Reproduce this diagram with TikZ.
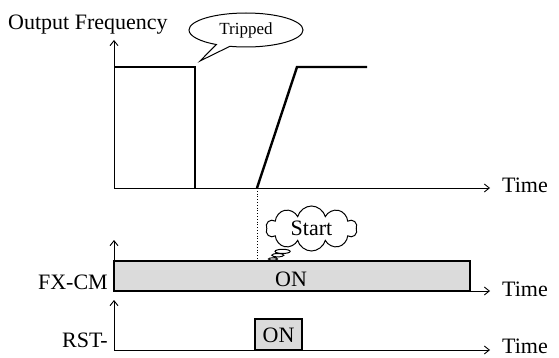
\documentclass[tikz,border=0pt]{standalone}
\usepackage{fontspec}
\setmainfont{Liberation Serif}
\usetikzlibrary{arrows.meta,shapes.callouts,shapes.symbols}
\begin{document}
\begin{tikzpicture}[x=1pt,y=-1pt,
  axis/.style={line width=0.9pt,-{Straight Barb[length=5pt,width=8pt,line width=0.9pt]}},
  freq/.style={line width=2.4pt},
  onbox/.style={draw,line width=1.1pt,fill=black!14},
  lbl/.style={inner sep=0pt,font=\fontsize{22}{24}\selectfont},
  small/.style={inner sep=0pt,font=\fontsize{17}{19}\selectfont}]
\useasboundingbox (0,0) rectangle (559,358);
% coordinates
\coordinate (o1) at (114,188);
\coordinate (y1) at (114,40);
\coordinate (x1) at (490,188);
\coordinate (o2) at (114,291);
\coordinate (y2) at (114,240);
\coordinate (x2) at (490,291);
\coordinate (o3) at (114,350);
\coordinate (y3) at (114,300);
\coordinate (x3) at (490,350);
\coordinate (f1) at (114,67);
\coordinate (f2) at (195,67);
\coordinate (f3) at (195,188);
\coordinate (r1) at (257,188);
\coordinate (r2) at (297,67);
\coordinate (r3) at (367,67);
\coordinate (d2) at (257,261);
% labels
\node[lbl,anchor=base west] (of) at (8,30) {Output Frequency};
\node[lbl,anchor=base west] (t1) at (502,193) {Time};
\node[lbl,anchor=base west] (t2) at (502,296) {Time};
\node[lbl,anchor=base west] (t3) at (502,353) {Time};
\node[lbl,anchor=base east] (fx) at (108,289) {FX-CM};
\node[lbl,anchor=base east] (rst) at (108,347) {RST-};
% boxes
\draw[onbox] (114,261) rectangle (470,291);
\node[lbl,anchor=base] (on1) at (291,286) {ON};
\draw[onbox] (255,319) rectangle (302,350);
\node[lbl,anchor=base] (on2) at (278.5,342) {ON};
% axes
\draw[axis] (o1) -- (y1);
\draw[axis] (o1) -- (x1);
\draw[axis] (o2) -- (y2);
\draw[axis] (o2) -- (x2);
\draw[axis] (o3) -- (y3);
\draw[axis] (o3) -- (x3);
% frequency
\draw[freq] (f1) -- (f2) -- (f3);
\draw[freq] (r1) -- (r2) -- (r3);
\draw[dotted,line width=0.8pt] (r1) -- (d2);
% callouts
\node[ellipse callout,draw,line width=1pt,minimum width=114pt,minimum height=34pt,inner sep=0pt,
  callout absolute pointer={(200,61)},small] (trip) at (246,30) {Tripped};
\node[cloud callout,draw,line width=1pt,minimum width=91pt,minimum height=45pt,inner sep=0pt,
  cloud puffs=10,aspect=2,callout pointer segments=3,
  callout absolute pointer={(273,259)},lbl] (start) at (311.5,228.5) {Start};
\end{tikzpicture}
\end{document}
